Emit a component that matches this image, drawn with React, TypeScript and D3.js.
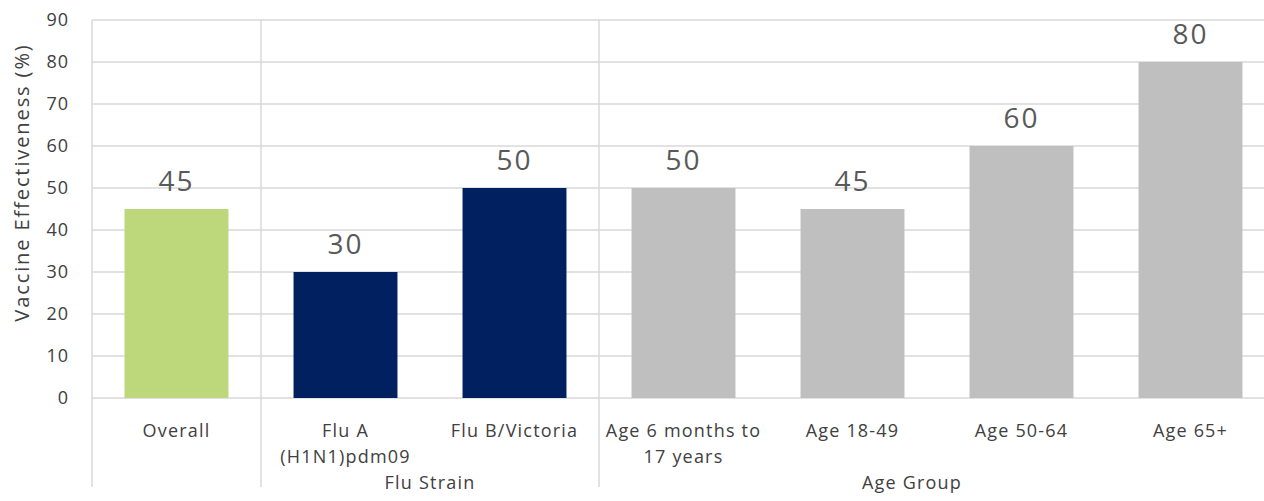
import * as React from "react";
import * as d3 from "d3";

// category labels, one entry per text line
const categoryLines: string[][] = [
  ["Overall"],
  ["Flu A", "(H1N1)pdm09"],
  ["Flu B/Victoria"],
  ["Age 6 months to", "17 years"],
  ["Age 18-49"],
  ["Age 50-64"],
  ["Age 65+"],
];
const effectiveness = [45, 30, 50, 50, 45, 60, 80];

const groupNames = ["", "Flu Strain", "Age Group"];
const groupSizes = [1, 2, 4];
const groupColors = ["#bdd87b", "#002060", "#bfbfbf"];

const yTicks = [0, 10, 20, 30, 40, 50, 60, 70, 80, 90];
const yTitle = "Vaccine Effectiveness (%)";

const WIDTH = 1264;
const HEIGHT = 501;
const margin = { top: 20, left: 92, bottom: 103 };
// the plot runs a little past the right edge of the picture
const plotRight = 1275;
// group titles sit centred over what is visible of the group
const visibleRight = 1225;
const FONT = "'Open Sans', 'Noto Sans', sans-serif";

export default function App() {
  const keys = categoryLines.map((_, i) => String(i));
  const plotBottom = HEIGHT - margin.bottom;

  const x = d3
    .scaleBand<string>()
    .domain(keys)
    .range([margin.left, plotRight])
    .paddingInner(0.385)
    .paddingOuter(0.1925);

  const y = d3.scaleLinear().domain([0, 90]).range([plotBottom, margin.top]);

  const step = x.step();
  const groups = groupSizes.map((size, gi) => {
    const first = d3.sum(groupSizes.slice(0, gi));
    const x0 = margin.left + first * step;
    const x1 = x0 + size * step;
    return { name: groupNames[gi], first, size, x0, x1 };
  });

  const colorOf = (i: number) => {
    const g = groups.findIndex((gr) => i >= gr.first && i < gr.first + gr.size);
    return groupColors[g];
  };

  const gridColor = "#d9d9d9";
  const textColor = "#404040";
  const lineBottom = 487;

  return (
    <div style={{ position: "absolute", left: 0, top: 0, width: WIDTH, height: HEIGHT, overflow: "hidden" }}>
      <svg width={WIDTH} height={HEIGHT} style={{ display: "block", fontFamily: FONT }}>
        <rect width={WIDTH} height={HEIGHT} fill="#ffffff" />

        {yTicks.map((t) => (
          <g key={t}>
            <line x1={margin.left} x2={plotRight} y1={y(t)} y2={y(t)} stroke={gridColor} strokeWidth={1.5} />
            <text
              x={69}
              y={y(t)}
              dy="0.36em"
              textAnchor="end"
              fontSize={18}
              letterSpacing={1}
              fill={textColor}
            >
              {t}
            </text>
          </g>
        ))}

        {/* left edge and group separators, running down through the label rows */}
        {groups.map((g, gi) => (
          <line
            key={gi}
            x1={g.x0}
            x2={g.x0}
            y1={margin.top}
            y2={lineBottom}
            stroke={gridColor}
            strokeWidth={1.5}
          />
        ))}
        <line x1={plotRight} x2={plotRight} y1={margin.top} y2={lineBottom} stroke={gridColor} strokeWidth={1.5} />

        {effectiveness.map((v, i) => {
          const bx = x(String(i)) ?? 0;
          const bw = x.bandwidth();
          return (
            <g key={i}>
              <rect x={bx} y={y(v)} width={bw} height={y(0) - y(v)} fill={colorOf(i)} />
              <text
                x={bx + bw / 2}
                y={y(v) - 18.5}
                textAnchor="middle"
                fontSize={28}
                letterSpacing={2}
                fill="#595959"
              >
                {v}
              </text>
            </g>
          );
        })}

        {categoryLines.map((lines, i) => {
          const cx = (x(String(i)) ?? 0) + x.bandwidth() / 2;
          return (
            <text key={i} textAnchor="middle" fontSize={18} letterSpacing={1.2} fill={textColor}>
              {lines.map((line, li) => (
                <tspan key={li} x={cx} y={437 + li * 25.5}>
                  {line}
                </tspan>
              ))}
            </text>
          );
        })}

        {groups
          .filter((g) => g.name)
          .map((g) => (
            <text
              key={g.name}
              x={(g.x0 + Math.min(g.x1, visibleRight)) / 2}
              y={489}
              textAnchor="middle"
              fontSize={18}
              letterSpacing={1.2}
              fill={textColor}
            >
              {g.name}
            </text>
          ))}

        <text
          transform={`translate(29,${182.5}) rotate(-90)`}
          textAnchor="middle"
          fontSize={20}
          letterSpacing={1.9}
          fill={textColor}
        >
          {yTitle}
        </text>
      </svg>
    </div>
  );
}
